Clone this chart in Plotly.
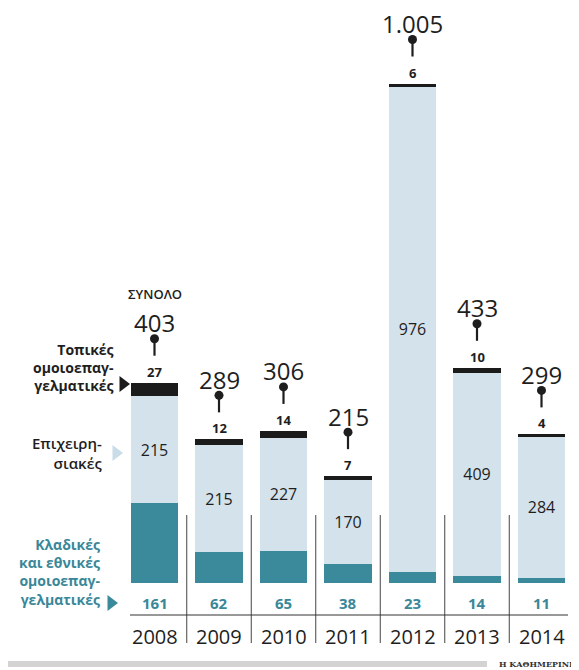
import plotly.graph_objects as go

# ---- data ----
years = ["2008", "2009", "2010", "2011", "2012", "2013", "2014"]
sectoral = [161, 62, 65, 38, 23, 14, 11]        # Κλαδικές και εθνικές ομοιοεπαγγελματικές
company = [215, 215, 227, 170, 976, 409, 284]   # Επιχειρησιακές
local = [27, 12, 14, 7, 6, 10, 4]               # Τοπικές ομοιοεπαγγελματικές
totals = [a + b + c for a, b, c in zip(sectoral, company, local)]

label_local = "Τοπικές<br>ομοιοεπαγ-<br>γελματικές"
label_company = "Επιχειρη-<br>σιακές"
label_sectoral = "Κλαδικές<br>και εθνικές<br>ομοιοεπαγ-<br>γελματικές"
label_total = "ΣΥΝΟΛΟ"
source = "Η ΚΑΘΗΜΕΡΙΝΗ"

# ---- style ----
TEAL = "#3b8a9c"
TEAL_TXT = "#3a8799"
LIGHT = "#d4e2eb"
BLACK = "#1b1b1b"
INK = "#1e1e1e"
FONT = "Open Sans"

OFF = 8                     # page body margin
W, H = 579 - OFF, 670 - OFF
BASE = 583                  # page pixel row of zero
PX_PER_UNIT = 0.497
X0, COL = 154.5, 64.5       # page pixel centre of first column, column pitch
u = 1 / PX_PER_UNIT
cx = 1 / COL

y_top = (BASE - OFF) * u
y_bot = -(H - (BASE - OFF)) * u
x_left = -(X0 - OFF) * cx
x_right = (W - (X0 - OFF)) * cx


def px_x(p):   # page x pixel -> data x
    return (p - X0) * cx


def px_y(p):   # page y pixel -> data y
    return (BASE - p) * u


x = list(range(len(years)))
BW = 0.735

fig = go.Figure()
fig.add_bar(x=x, y=sectoral, width=BW, marker=dict(color=TEAL, line_width=0), hoverinfo="skip")
fig.add_bar(x=x, y=company, width=BW, marker=dict(color=LIGHT, line_width=0),
            text=[str(v) for v in company], textposition="inside", insidetextanchor="middle",
            textangle=0, textfont=dict(family=FONT, size=16, color=INK), hoverinfo="skip")
fig.add_bar(x=x, y=local, width=BW, marker=dict(color=BLACK, line_width=0), hoverinfo="skip")

# pins
sx, sy = [], []
for i, t in enumerate(totals):
    sx += [i, i, None]
    sy += [t + 27 * u, t + 42 * u, None]
fig.add_scatter(x=sx, y=sy, mode="lines", line=dict(color=INK, width=2.2), hoverinfo="skip")
fig.add_scatter(x=x, y=[t + 44 * u for t in totals], mode="markers",
                marker=dict(color=INK, size=9, line_width=0), hoverinfo="skip")

ann = []
for i, t in enumerate(totals):
    ann.append(dict(x=i, y=t + 60 * u, text=f"{t:,}".replace(",", "."), showarrow=False,
                    font=dict(family=FONT, size=24, color=INK), xanchor="center", yanchor="middle"))
    ann.append(dict(x=i, y=t + 11 * u, text=f"<b>{local[i]}</b>", showarrow=False,
                    font=dict(family=FONT, size=13, color=INK), xanchor="center", yanchor="middle"))
    ann.append(dict(x=i, y=px_y(603), text=f"<b>{sectoral[i]}</b>", showarrow=False,
                    font=dict(family=FONT, size=15, color=TEAL_TXT), xanchor="center", yanchor="middle"))
    ann.append(dict(x=i, y=px_y(636), text=years[i], showarrow=False,
                    font=dict(family=FONT, size=20, color=INK), xanchor="center", yanchor="middle"))

ann.append(dict(x=0, y=totals[0] + 89 * u, text=label_total, showarrow=False,
                font=dict(family=FONT, size=13, color=INK, weight=600), xanchor="center", yanchor="middle"))

# left legend labels
ann.append(dict(x=px_x(116), y=px_y(367), text=f"<b>{label_local}</b>", showarrow=False,
                align="right", xanchor="right", yanchor="middle",
                font=dict(family=FONT, size=14, color=INK)))
ann.append(dict(x=px_x(104), y=px_y(453), text=label_company, showarrow=False,
                align="right", xanchor="right", yanchor="middle",
                font=dict(family=FONT, size=15, color=INK, weight=600)))
ann.append(dict(x=px_x(102), y=px_y(572), text=f"<b>{label_sectoral}</b>", showarrow=False,
                align="right", xanchor="right", yanchor="middle",
                font=dict(family=FONT, size=14, color=TEAL_TXT)))
ann.append(dict(x=1, y=(H - (664 - OFF)) / H, xref="paper", yref="paper", text=f"<b>{source}</b>",
                showarrow=False, xanchor="right", yanchor="middle",
                font=dict(family="DejaVu Serif", size=8, color="#333")))

# triangle markers for the legend
fig.add_scatter(x=[px_x(123)], y=[px_y(384)], mode="markers",
                marker=dict(symbol="triangle-right", size=14, color=BLACK), hoverinfo="skip")
fig.add_scatter(x=[px_x(116)], y=[px_y(453)], mode="markers",
                marker=dict(symbol="triangle-right", size=14, color="#c9dce8"), hoverinfo="skip")
fig.add_scatter(x=[px_x(111)], y=[px_y(603)], mode="markers",
                marker=dict(symbol="triangle-right", size=14, color=TEAL), hoverinfo="skip")

shapes = []
for k in range(len(years) - 1):
    shapes.append(dict(type="line", x0=k + 0.5, x1=k + 0.5, y0=px_y(515), y1=px_y(643),
                       line=dict(color="#444", width=1)))
shapes.append(dict(type="line", x0=px_x(130), x1=px_x(568), y0=px_y(615), y1=px_y(615),
                   line=dict(color="#333", width=1)))
shapes.append(dict(type="rect", xref="paper", yref="paper", x0=0, x1=(487 - OFF) / W,
                   y0=(H - (667 - OFF)) / H, y1=(H - (661 - OFF)) / H, fillcolor="#d3d3d3", line_width=0))

fig.update_layout(
    width=W, height=H, barmode="stack", showlegend=False,
    margin=dict(l=0, r=0, t=0, b=0),
    paper_bgcolor="white", plot_bgcolor="white",
    xaxis=dict(range=[x_left, x_right], visible=False, fixedrange=True),
    yaxis=dict(range=[y_bot, y_top], visible=False, fixedrange=True),
    annotations=ann, shapes=shapes,
    uniformtext=dict(mode=False),
)
fig.write_html("out.html")
